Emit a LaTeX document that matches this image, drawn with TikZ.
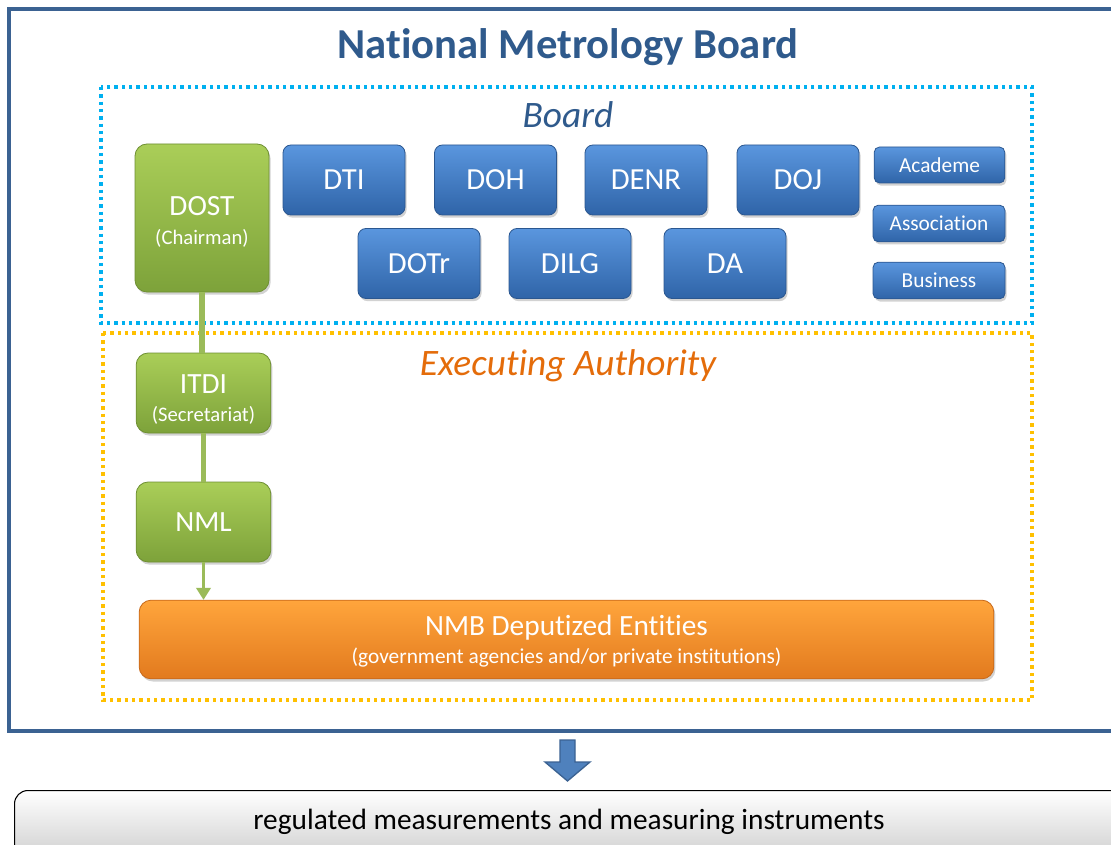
\documentclass[tikz,border=0pt]{standalone}
\usepackage{fontspec}
\setmainfont{Carlito}[Ligatures=NoCommon]
\usetikzlibrary{shadows,arrows.meta}
\definecolor{frameblue}{HTML}{3B6292}
\definecolor{titleblue}{HTML}{2F5A8C}
\definecolor{dotblue}{HTML}{00B0F0}
\definecolor{dotorange}{HTML}{FFC000}
\definecolor{execorange}{HTML}{E46C0A}
\definecolor{btop}{HTML}{5A96DE}
\definecolor{bmid}{HTML}{3F7BC6}
\definecolor{bbot}{HTML}{2F64A8}
\definecolor{bedge}{HTML}{2B5790}
\definecolor{gtop}{HTML}{AACE58}
\definecolor{gmid}{HTML}{98BE4A}
\definecolor{gbot}{HTML}{7DA23A}
\definecolor{gedge}{HTML}{6E8F33}
\definecolor{otop}{HTML}{FFA53C}
\definecolor{omid}{HTML}{F8962E}
\definecolor{obot}{HTML}{E27A1E}
\definecolor{oedge}{HTML}{C8691A}
\definecolor{glink}{HTML}{9BBB59}
\definecolor{arrblue}{HTML}{4F81BD}
\tikzset{
  boxbase/.style={rounded corners=6pt, draw, line width=0.6pt, inner sep=0pt,
    drop shadow={opacity=0.35, shadow xshift=1.2pt, shadow yshift=-2pt}},
  bluebox/.style={boxbase, top color=btop, middle color=bmid, bottom color=bbot, draw=bedge,
    text=white, font=\fontsize{23}{26}\selectfont},
  smallblue/.style={boxbase, rounded corners=4pt, top color=btop, middle color=bmid, bottom color=bbot, draw=bedge,
    text=white, font=\fontsize{16}{18}\selectfont},
  greenbox/.style={boxbase, rounded corners=9pt, top color=gtop, middle color=gmid, bottom color=gbot, draw=gedge,
    text=white, font=\fontsize{22}{26}\selectfont, align=center},
  orangebox/.style={boxbase, rounded corners=9pt, top color=otop, middle color=omid, bottom color=obot, draw=oedge,
    text=white, align=center},
  whitetxt/.style={text=white, inner sep=0pt},
  dotframe/.style={line width=2.6pt, dash pattern=on 2.6pt off 2.9pt},
  glinkstyle/.style={draw=glink, line width=4pt},
}
\begin{document}
\begin{tikzpicture}[x=0.75pt,y=-0.75pt]
\useasboundingbox (0,0) rectangle (1111,845);
\clip (0,0) rectangle (1111,845);
\fill[white] (0,0) rectangle (1111,845);
% outer frame
\draw[frameblue, line width=3pt] (9,9) rectangle (1125,731);
\node[font=\bfseries\fontsize{32}{36}\selectfont, text=titleblue] (title) at (568,47) {National Metrology Board};
% dotted frames
\draw[dotframe, dotblue] (101,87) rectangle (1032,323);
\draw[dotframe, dotorange] (103,333) rectangle (1032,700);
\node[font=\itshape\fontsize{28}{32}\selectfont, text=titleblue] (boardlbl) at (568,115) {Board};
\node[font=\itshape\fontsize{28}{32}\selectfont, text=execorange] (execlbl) at (568,366) {Executing Authority};
% green boxes
\node[greenbox, minimum width=100.5pt, minimum height=111pt] (dost) at (202,218) {};
\node[whitetxt, font=\fontsize{22}{26}\selectfont] (dosttxt) at (202,206) {DOST};
\node[whitetxt, font=\fontsize{15.5}{18}\selectfont] (dostsub) at (202,238) {(Chairman)};
\node[greenbox, minimum width=101pt, minimum height=60pt] (itdi) at (203.5,393) {};
\node[whitetxt, font=\fontsize{22}{26}\selectfont] (itditxt) at (203.5,384) {ITDI};
\node[whitetxt, font=\fontsize{15.5}{18}\selectfont] (itdisub) at (203.5,415) {(Secretariat)};
\node[greenbox, minimum width=101pt, minimum height=60pt] (nml) at (203.5,522) {NML};
% orange box
\node[orangebox, minimum width=641pt, minimum height=59pt] (nmb) at (566.5,639.5) {};
\node[whitetxt, font=\fontsize{22}{26}\selectfont] (nmbtxt) at (566.5,628) {NMB Deputized Entities};
\node[whitetxt, font=\fontsize{16}{19}\selectfont] (nmbsub) at (566.5,658) {(government agencies and/or private institutions)};
% links
\draw[glinkstyle] (dost.south) -- (dost.south |- itdi.north);
\draw[glinkstyle] (itdi.south) -- (itdi.south |- nml.north);
\draw[draw=glink, line width=1.6pt, -{Triangle[length=9pt,width=11pt]}] (nml.south) -- (nml.south |- nmb.north);
% blue boxes
\node[bluebox, minimum width=91.5pt, minimum height=52.5pt] (dti) at (344,180) {DTI};
\node[bluebox, minimum width=91.5pt, minimum height=52.5pt] (doh) at (495.5,180) {DOH};
\node[bluebox, minimum width=91.5pt, minimum height=52.5pt] (denr) at (646,180) {DENR};
\node[bluebox, minimum width=91.5pt, minimum height=52.5pt] (doj) at (798,180) {DOJ};
\node[bluebox, minimum width=91.5pt, minimum height=52.5pt] (dotr) at (419,263.5) {DOTr};
\node[bluebox, minimum width=91.5pt, minimum height=52.5pt] (dilg) at (570,263.5) {DILG};
\node[bluebox, minimum width=91.5pt, minimum height=52.5pt] (da) at (725,263.5) {DA};
\node[smallblue, minimum width=98pt, minimum height=27pt] (academe) at (939.5,165) {Academe};
\node[smallblue, minimum width=99pt, minimum height=27.5pt] (assoc) at (939,223.5) {Association};
\node[smallblue, minimum width=99pt, minimum height=27.5pt] (business) at (939,280.5) {Business};
% block arrow
\draw[frameblue, fill=arrblue, line width=1pt] (560,740) -- (575,740) -- (575,762) -- (590,762) -- (567.5,781) -- (545,762) -- (560,762) -- cycle;
% bottom box
\node[draw=black, line width=0.8pt, rounded corners=10pt, top color=white, bottom color=black!22,
  minimum width=900pt, minimum height=60pt, anchor=north west,
  drop shadow={opacity=0.3, shadow xshift=1pt, shadow yshift=-1.5pt}] (result) at (14,790) {};
\node[font=\fontsize{22}{26}\selectfont, inner sep=0pt] (resulttxt) at (569,822) {regulated measurements and measuring instruments};
\end{tikzpicture}
\end{document}
